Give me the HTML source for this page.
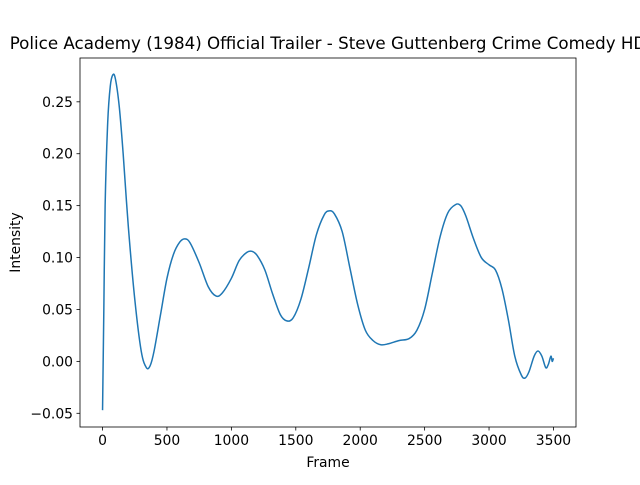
<!DOCTYPE html>
<html><head><meta charset="utf-8"><style>
body{margin:0;background:#fff;overflow:hidden;}
svg text{font-family:"DejaVu Sans","Liberation Sans",sans-serif;fill:#000;}
</style></head><body>
<svg width="640" height="480" viewBox="0 0 640 480">
<rect width="640" height="480" fill="#fff"/>
<text x="328" y="49" font-size="16.7" text-anchor="middle">Police Academy (1984) Official Trailer - Steve Guttenberg Crime Comedy HD</text>
<g id="axes"></g>
<path id="line" fill="none" stroke="#1f77b4" stroke-width="1.5" stroke-linejoin="round"/>
<rect x="80" y="58" width="496" height="369" fill="none" stroke="#000" stroke-width="0.8"/>
<text x="328" y="467" font-size="13.9" text-anchor="middle">Frame</text>
<text x="0" y="0" font-size="13.9" text-anchor="middle" transform="translate(20,242.5) rotate(-90)">Intensity</text>
</svg>
<script>
const frames=[0,10,20,40,60,80,100,130,160,200,250,300,340,370,400,450,500,550,600,640,680,750,820,880,930,1000,1060,1120,1160,1200,1260,1320,1380,1430,1480,1540,1600,1660,1720,1760,1800,1860,1920,1980,2040,2100,2160,2220,2300,2380,2440,2500,2560,2620,2680,2740,2780,2820,2880,2940,3000,3050,3100,3150,3200,3250,3280,3310,3350,3380,3410,3440,3460,3480,3490,3500];
const intensity=[-0.047,0.05,0.15,0.23,0.265,0.276,0.272,0.245,0.2,0.13,0.06,0.01,-0.006,-0.004,0.01,0.045,0.08,0.103,0.115,0.118,0.114,0.095,0.072,0.063,0.066,0.08,0.097,0.105,0.106,0.102,0.088,0.065,0.045,0.039,0.042,0.06,0.09,0.122,0.141,0.145,0.142,0.125,0.09,0.055,0.03,0.02,0.016,0.017,0.02,0.022,0.03,0.05,0.085,0.12,0.143,0.151,0.150,0.14,0.118,0.1,0.093,0.088,0.07,0.04,0.005,-0.013,-0.016,-0.01,0.005,0.01,0.005,-0.006,-0.003,0.005,0.0,0.003];
const xTicks=[0,500,1000,1500,2000,2500,3000,3500];
const yTicks=[-0.05,0.00,0.05,0.10,0.15,0.20,0.25];
const X0=80,X1=576,Y0=58,Y1=427;
const xmin=-175,xmax=3675,ymin=-0.0632,ymax=0.2922;
const sx=v=>X0+(v-xmin)/(xmax-xmin)*(X1-X0);
const sy=v=>Y1-(v-ymin)/(ymax-ymin)*(Y1-Y0);
const NS='http://www.w3.org/2000/svg';
const ax=document.getElementById('axes');
function mk(t,a){const e=document.createElementNS(NS,t);for(const k in a)e.setAttribute(k,a[k]);ax.appendChild(e);return e;}
xTicks.forEach(t=>{
 const l=mk('line',{x1:sx(t),x2:sx(t),y1:Y1,y2:Y1+3.5,stroke:'#000','stroke-width':0.8});
 
 
 const s=mk('text',{x:sx(t),y:Y1+18,'font-size':13.9,'text-anchor':'middle'});s.textContent=t;
 
 
});
yTicks.forEach(t=>{
 const l=mk('line',{x1:X0-3.5,x2:X0,y1:sy(t),y2:sy(t),stroke:'#000','stroke-width':0.8});
 
 
 const s=mk('text',{x:X0-7,y:sy(t)+5,'font-size':13.9,'text-anchor':'end'});s.textContent=t.toFixed(2).replace('-','\u2212');
 
 
});
const P=frames.map((f,i)=>[sx(f),sy(intensity[i])]);
let d='M'+P[0][0]+','+P[0][1];
for(let i=0;i<P.length-1;i++){
 const p0=P[Math.max(0,i-1)],p1=P[i],p2=P[i+1],p3=P[Math.min(P.length-1,i+2)];
 const c1=[p1[0]+(p2[0]-p0[0])/6,p1[1]+(p2[1]-p0[1])/6];
 const c2=[p2[0]-(p3[0]-p1[0])/6,p2[1]-(p3[1]-p1[1])/6];
 d+=` C${c1[0]},${c1[1]} ${c2[0]},${c2[1]} ${p2[0]},${p2[1]}`;
}
document.getElementById('line').setAttribute('d',d);
</script>
</body></html>
